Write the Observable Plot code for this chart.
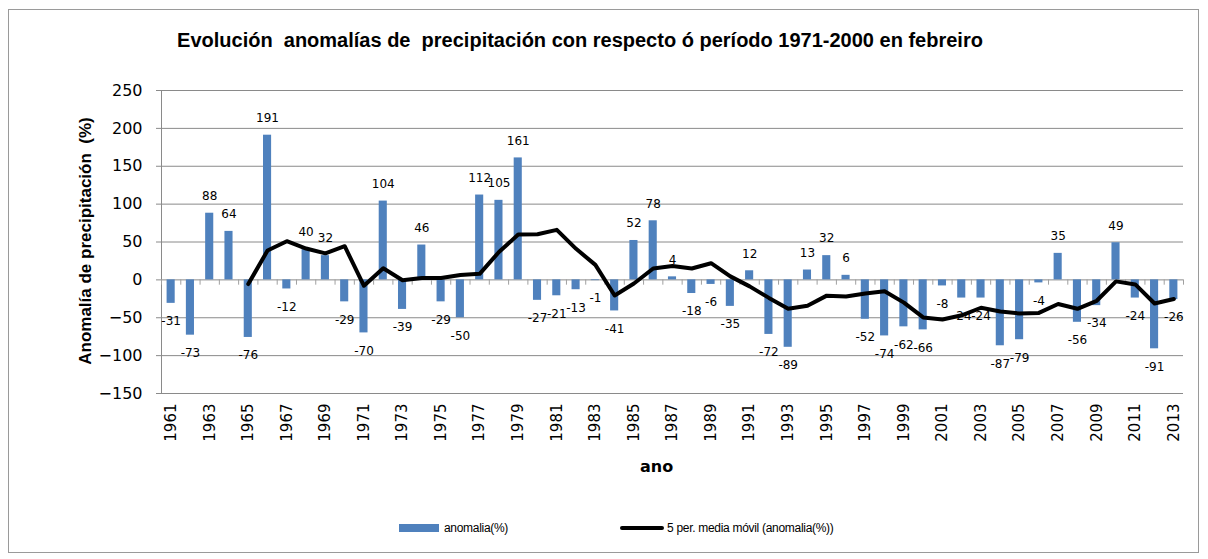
<!DOCTYPE html>
<html>
<head>
<meta charset="utf-8">
<script src="https://cdn.jsdelivr.net/npm/d3@7"></script>
<script src="https://cdn.jsdelivr.net/npm/@observablehq/plot@0.6"></script>
<style>
  html, body { margin: 0; padding: 0; background: #fff; }
  #wrap { position: relative; width: 1208px; height: 559px; overflow: hidden; }
  #frame { position: absolute; left: 8px; top: 9px; width: 1191px; height: 544px; border: 1px solid #9a9a9a; box-sizing: border-box; }
  #title { position: absolute; left: 0; width: 1160px; top: 29px; text-align: center; font: bold 20px "Liberation Sans", Arial, sans-serif; color: #000; white-space: pre; }
  #chart { position: absolute; left: 0; top: 0; }
  #xlabel { position: absolute; left: 640px; top: 457px; font: bold 16px "DejaVu Sans", sans-serif; }
  #ylabel { position: absolute; left: 86px; top: 241px; transform: translate(-50%, -50%) rotate(-90deg); font: bold 17px "Liberation Sans", Arial, sans-serif; white-space: pre; }
  .leg { position: absolute; top: 521px; font: 12px "Liberation Sans", Arial, sans-serif; display: flex; align-items: center; letter-spacing: -0.3px; }
  .sw-bar { width: 40px; height: 8px; background: #4F81BD; margin-right: 5px; }
  .sw-line { width: 44px; height: 4px; background: #000; border-radius: 2px; margin-right: 3px; }
</style>
</head>
<body>
<div id="wrap">
  <div id="frame"></div>
  <div id="chart"></div>
  <div id="title">Evolución  anomalías de  precipitación con respecto ó período 1971-2000 en febreiro</div>
  <div id="ylabel">Anomalía de precipitación  (%)</div>
  <div id="xlabel">ano</div>
  <div class="leg" style="left:399px;"><div class="sw-bar"></div><span>anomalia(%)</span></div>
  <div class="leg" style="left:620px;"><div class="sw-line"></div><span>5 per. media móvil (anomalia(%))</span></div>
</div>
<script>
const years = d3.range(1961, 2014);
const anomalia = [
  -31, -73, 88, 64, -76, 191, -12, 40, 32, -29,
  -70, 104, -39, 46, -29, -50, 112, 105, 161, -27,
  -21, -13, -1, -41, 52, 78, 4, -18, -6, -35,
  12, -72, -89, 13, 32, 6, -52, -74, -62, -66,
  -8, -24, -24, -87, -79, -4, 35, -56, -34, 49,
  -24, -91, -26
];
const yTicks = [-150, -100, -50, 0, 50, 100, 150, 200, 250];
const xTickYears = years.filter(y => y % 2 === 1);

const data = years.map((year, i) => ({year, value: anomalia[i]}));
const boundaries = [years[0] - 0.5, ...years.map(y => y + 0.5)];

const chart = Plot.plot({
  width: 1208,
  height: 490,
  marginTop: 90,
  marginBottom: 97,
  marginLeft: 161,
  marginRight: 25,
  style: {fontFamily: "DejaVu Sans, sans-serif", background: "transparent"},
  x: {type: "linear", domain: [1960.5, 2013.5]},
  y: {domain: [-150, 250]},
  marks: [
    Plot.ruleY(yTicks, {stroke: "#8a8a8a", strokeWidth: 1}),
    Plot.ruleX([1960.5], {y1: -150, y2: 250, stroke: "#8a8a8a"}),
    Plot.rect(data, {x1: d => d.year - 0.21, x2: d => d.year + 0.21, y1: 0, y2: "value", fill: "#4F81BD"}),
    Plot.ruleX(boundaries, {y1: 0, y2: -7, stroke: "#a0a0a0"}),
    Plot.lineY(data, Plot.windowY({k: 5, anchor: "end", strict: true}, {x: "year", y: "value", stroke: "#000", strokeWidth: 4, strokeLinejoin: "round", strokeLinecap: "round"})),
    Plot.text(data.filter(d => d.value >= 0), {x: "year", y: "value", text: d => String(d.value), dy: -17, fontSize: 12, fill: "#000", fontFamily: "DejaVu Sans"}),
    Plot.text(data.filter(d => d.value < 0), {x: "year", y: "value", text: d => String(d.value), dy: 18, fontSize: 12, fill: "#000", fontFamily: "DejaVu Sans"}),
    Plot.axisY({ticks: yTicks, tickSize: 5, tickPadding: 14, fontSize: 16, label: null, stroke: "#8a8a8a", color: "#000"}),
    Plot.axisX({ticks: xTickYears, tickFormat: d => String(d), tickRotate: -90, tickSize: 0, tickPadding: 10, fontSize: 15, label: null})
  ]
});
document.getElementById("chart").appendChild(chart);
</script>
</body>
</html>
